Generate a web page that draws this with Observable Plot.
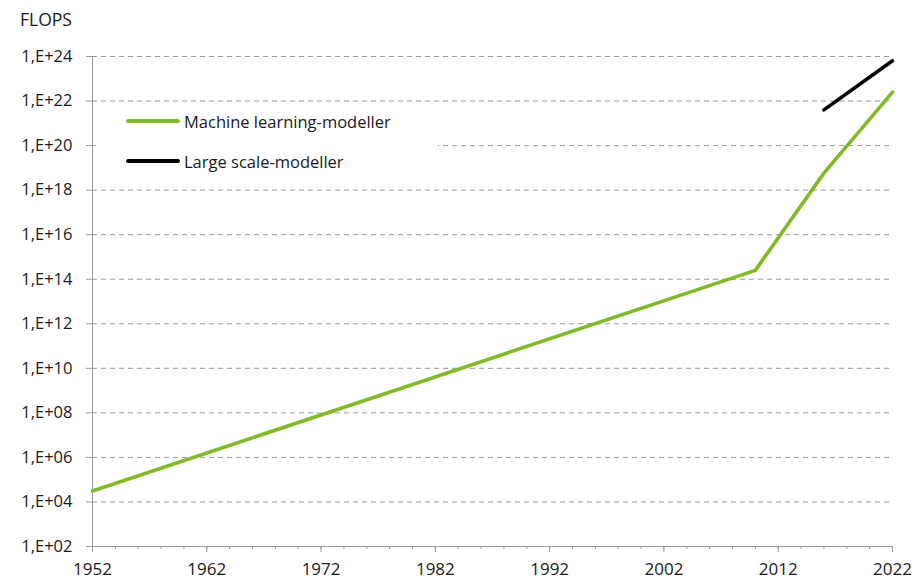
<!DOCTYPE html>
<html>
<head>
<meta charset="utf-8">
<script src="https://cdn.jsdelivr.net/npm/d3@7"></script>
<script src="https://cdn.jsdelivr.net/npm/@observablehq/plot@0.6"></script>
<style>
  html, body { margin: 0; padding: 0; background: #fff; }
  #wrap { position: relative; width: 914px; height: 581px; font-family: "Open Sans", sans-serif; color: #1a1a1a; }
  #ylabel { position: absolute; left: 20px; top: 9px; font-size: 17.5px; line-height: 20px; }
  #legend { position: absolute; left: 96px; top: 105px; width: 342px; height: 76px; background: #fff; }
  .item { position: absolute; left: 30px; height: 22px; display: flex; align-items: center; font-size: 16.5px; }
  .sw { width: 54px; height: 3.6px; border-radius: 2px; margin-right: 4px; }
</style>
</head>
<body>
<div id="wrap">
  <div id="chart"></div>
  <div id="ylabel">FLOPS</div>
  <div id="legend"></div>
</div>
<script>
// Data
const seriesNames = ["Machine learning-modeller", "Large scale-modeller"];
const seriesColors = ["#7fba27", "#000000"];
const mlYears = [1952, 2010, 2016, 2022];
const mlFlops = [3.1e4, 2.5e14, 5.8e18, 2.5e22];
const lsYears = [2016, 2022];
const lsFlops = [4e21, 6.4e23];
const yTicks = [1e2, 1e4, 1e6, 1e8, 1e10, 1e12, 1e14, 1e16, 1e18, 1e20, 1e22, 1e24];
const xMajor = [1952, 1962, 1972, 1982, 1992, 2002, 2012, 2022];
const xMinor = d3.range(1952, 2023, 2);

const ml = mlYears.map((y, i) => ({year: y, flops: mlFlops[i]}));
const ls = lsYears.map((y, i) => ({year: y, flops: lsFlops[i]}));

const fmt = d => "1,E+" + String(Math.round(Math.log10(d))).padStart(2, "0");

const chart = Plot.plot({
  width: 914,
  height: 581,
  marginLeft: 92,
  marginRight: 22,
  marginTop: 56,
  marginBottom: 35,
  style: {fontFamily: "Open Sans, sans-serif", fontSize: "16.5px", color: "#1a1a1a", background: "#fff"},
  x: {domain: [1952, 2022]},
  y: {type: "log", domain: [1e2, 1e24]},
  marks: [
    Plot.gridY(yTicks.slice(1), {stroke: "#999", strokeOpacity: 1, strokeWidth: 1, strokeDasharray: "5,4"}),
    Plot.axisY({ticks: yTicks, tickFormat: fmt, tickSize: 6, tickPadding: 14, stroke: "#999", label: null, fill: "#1a1a1a", fontSize: 16.5}),
    Plot.axisX({ticks: xMinor, tickSize: 3, tickFormat: () => "", stroke: "#999", label: null}),
    Plot.axisX({ticks: xMajor, tickSize: 6, tickPadding: 10, tickFormat: d => String(d), stroke: "#999", label: null, fill: "#1a1a1a", fontSize: 17}),
    Plot.ruleY([1e2], {stroke: "#999"}),
    Plot.ruleX([1952], {stroke: "#999"}),
    Plot.line(ml, {x: "year", y: "flops", stroke: seriesColors[0], strokeWidth: 3.6, strokeLinecap: "round"}),
    Plot.line(ls, {x: "year", y: "flops", stroke: seriesColors[1], strokeWidth: 3.6, strokeLinecap: "round"})
  ]
});
document.getElementById("chart").appendChild(chart);

const legend = document.getElementById("legend");
seriesNames.forEach((name, i) => {
  const item = document.createElement("div");
  item.className = "item";
  item.style.top = (5 + i * 40) + "px";
  item.innerHTML = `<span class="sw" style="background:${seriesColors[i]}"></span><span>${name}</span>`;
  legend.appendChild(item);
});
</script>
</body>
</html>
